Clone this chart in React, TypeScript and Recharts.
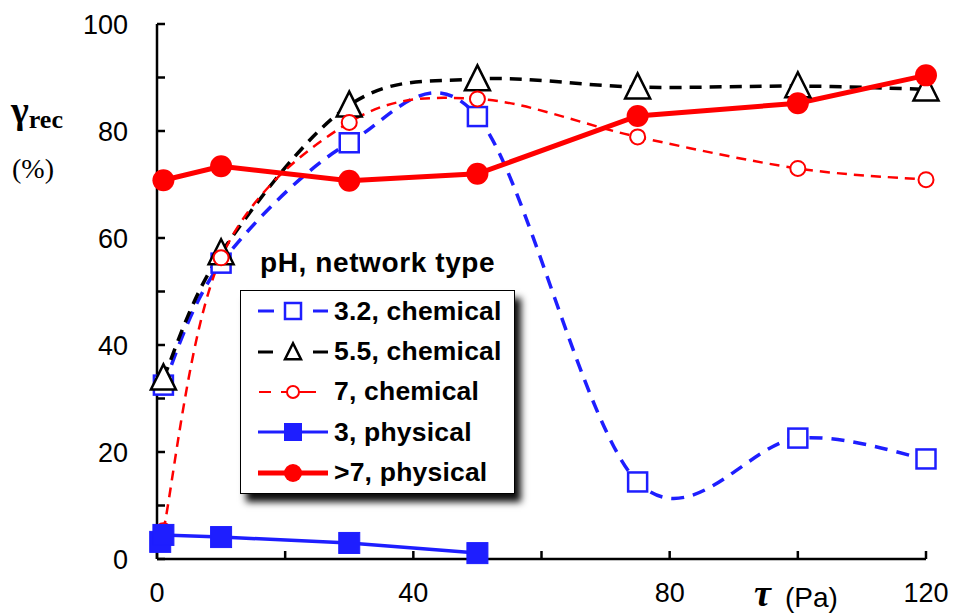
import React from "react";
import { LineChart, Line, XAxis, YAxis, Legend } from "recharts";

// values
const xChem = [1, 10, 30, 50, 75, 100, 120];
const y32Chem = [32.5, 55.3, 77.8, 82.7, 14.4, 22.6, 18.7];
const y55Chem = [33.8, 57.2, 84.8, 89.7, 88.2, 88.4, 87.8];
const y7Chem = [5.3, 56.3, 81.6, 86, 78.9, 73, 70.9];
const x3Phys = [0.5, 1, 10, 30, 50];
const y3Phys = [3.2, 4.5, 4.1, 3.0, 1.1];
const xGt7Phys = [1, 10, 30, 50, 75, 100, 120];
const yGt7Phys = [70.8, 73.4, 70.7, 72, 82.8, 85.2, 90.4];

const seriesNames = ["3.2, chemical", "5.5, chemical", "7, chemical", "3, physical", ">7, physical"];
const xTicks = [0, 20, 40, 60, 80, 100, 120];
const yTicks = [0, 10, 20, 30, 40, 50, 60, 70, 80, 90, 100];

const BLUE = "#1E1EFF";
const RED = "#FF0000";
const SANS = "'Liberation Sans', Arial, sans-serif";
const SERIF = "'Liberation Serif', 'Times New Roman', serif";

const toRows = (xs: number[], ys: number[]) => xs.map((x, i) => ({ x, y: ys[i] }));

// Excel-like smoothed line (bezier with 1/6 tangents)
const excelSmooth = (context: any) => {
  let pts: [number, number][] = [];
  return {
    areaStart() {},
    areaEnd() {},
    lineStart() {
      pts = [];
    },
    point(x: number, y: number) {
      pts.push([+x, +y]);
    },
    lineEnd() {
      const n = pts.length;
      if (!n) return;
      context.moveTo(pts[0][0], pts[0][1]);
      for (let i = 0; i < n - 1; i++) {
        const p0 = pts[Math.max(i - 1, 0)];
        const p1 = pts[i];
        const p2 = pts[i + 1];
        const p3 = pts[Math.min(i + 2, n - 1)];
        context.bezierCurveTo(
          p1[0] + (p2[0] - p0[0]) / 6,
          p1[1] + (p2[1] - p0[1]) / 6,
          p2[0] - (p3[0] - p1[0]) / 6,
          p2[1] - (p3[1] - p1[1]) / 6,
          p2[0],
          p2[1]
        );
      }
    },
  };
};

const OpenSquare = ({ cx, cy, s = 19 }: any) => (
  <rect x={cx - s / 2} y={cy - s / 2} width={s} height={s} fill="#fff" stroke={BLUE} strokeWidth={2.5} />
);
const FilledSquare = ({ cx, cy, s = 21 }: any) => (
  <rect x={cx - s / 2} y={cy - s / 2} width={s} height={s} fill={BLUE} stroke={BLUE} strokeWidth={1} />
);
const Triangle = ({ cx, cy, w = 25, h = 25 }: any) => (
  <polygon
    points={`${cx},${cy - h * 0.55} ${cx - w / 2},${cy + h * 0.45} ${cx + w / 2},${cy + h * 0.45}`}
    fill="#fff"
    stroke="#000"
    strokeWidth={2.5}
    strokeLinejoin="miter"
  />
);
const OpenCircle = ({ cx, cy, r = 7.5 }: any) => (
  <circle cx={cx} cy={cy} r={r} fill="#fff" stroke={RED} strokeWidth={2} />
);
const FilledCircle = ({ cx, cy, r = 11 }: any) => <circle cx={cx} cy={cy} r={r} fill={RED} />;

const legendIcon: Record<string, React.ReactNode> = {
  "3.2, chemical": (
    <>
      <line x1={2} x2={18} y1={0} y2={0} stroke={BLUE} strokeWidth={3} />
      <OpenSquare cx={37} cy={0} s={16} />
      <line x1={57} x2={72} y1={0} y2={0} stroke={BLUE} strokeWidth={3} />
    </>
  ),
  "5.5, chemical": (
    <>
      <line x1={2} x2={17} y1={0} y2={0} stroke="#000" strokeWidth={3} />
      <Triangle cx={37} cy={0} w={16} h={16} />
      <line x1={57} x2={72} y1={0} y2={0} stroke="#000" strokeWidth={3} />
    </>
  ),
  "7, chemical": (
    <>
      <line x1={3} x2={15} y1={0} y2={0} stroke={RED} strokeWidth={2} />
      <line x1={25} x2={60} y1={0} y2={0} stroke={RED} strokeWidth={2} />
      <OpenCircle cx={37} cy={0} r={6} />
    </>
  ),
  "3, physical": (
    <>
      <line x1={2} x2={72} y1={0} y2={0} stroke={BLUE} strokeWidth={3} />
      <FilledSquare cx={37} cy={0} s={17} />
    </>
  ),
  ">7, physical": (
    <>
      <line x1={2} x2={72} y1={0} y2={0} stroke={RED} strokeWidth={5} />
      <FilledCircle cx={37} cy={0} r={9} />
    </>
  ),
};

const renderLegend = (props: any) => {
  const payload = [...(props.payload || [])].sort(
    (a: any, b: any) => seriesNames.indexOf(a.value) - seriesNames.indexOf(b.value)
  );
  return (
    <div style={{ position: "relative", fontFamily: SANS, fontWeight: "bold", color: "#000" }}>
      <div
        style={{
          position: "absolute",
          left: 20,
          top: 0,
          fontSize: 28,
          letterSpacing: 0.6,
          lineHeight: "30px",
          whiteSpace: "nowrap",
        }}
      >
        pH, network type
      </div>
      <div
        style={{
          position: "absolute",
          left: 0,
          top: 42,
          width: 275,
          height: 204,
          boxSizing: "border-box",
          border: "1.5px solid #000",
          background: "#fff",
          boxShadow: "6px 8px 7px rgba(0,0,0,0.95)",
        }}
      >
        {payload.map((entry: any) => (
          <div
            key={entry.value}
            style={{ height: 40.4, display: "flex", alignItems: "center", whiteSpace: "nowrap" }}
          >
            <svg width={78} height={30} style={{ marginLeft: 14, flex: "none" }}>
              <g transform="translate(1,15)">{legendIcon[entry.value]}</g>
            </svg>
            <span style={{ fontSize: 26.5, letterSpacing: 0.2, marginLeft: 1 }}>{entry.value}</span>
          </div>
        ))}
      </div>
    </div>
  );
};

const axisStroke = { stroke: "#000", strokeWidth: 2.5 };
const tickStyle = { fontSize: 27, fill: "#000", fontFamily: SANS };

export default function App() {
  return (
    <div style={{ position: "relative", width: 954, height: 615, background: "#fff" }}>
      <style>{"body{margin:0}"}</style>
      <LineChart width={954} height={615} margin={{ top: 24, right: 28, left: 0, bottom: 0 }}>
        <XAxis
          type="number"
          dataKey="x"
          domain={[0, 120]}
          ticks={xTicks}
          interval={0}
          allowDuplicatedCategory={false}
          height={56}
          tickSize={-8}
          tickMargin={32}
          axisLine={axisStroke}
          tickLine={axisStroke}
          tick={tickStyle}
          tickFormatter={(v: number) => (v % 40 === 0 ? String(v) : "")}
        />
        <YAxis
          type="number"
          domain={[0, 100]}
          ticks={yTicks}
          interval={0}
          width={157}
          tickSize={-8}
          tickMargin={37}
          axisLine={axisStroke}
          tickLine={axisStroke}
          tick={tickStyle}
          tickFormatter={(v: number) => (v % 20 === 0 ? String(v) : "")}
        />
        <Legend
          layout="vertical"
          verticalAlign="middle"
          align="center"
          content={renderLegend}
          wrapperStyle={{ position: "absolute", left: 240, top: 248, width: 290, height: 260 }}
        />
        <Line
          name={seriesNames[0]}
          data={toRows(xChem, y32Chem)}
          dataKey="y"
          type={excelSmooth as any}
          stroke={BLUE}
          strokeWidth={3.5}
          strokeDasharray="13 9"
          dot={(p: any) => <OpenSquare key={p.index} cx={p.cx} cy={p.cy} />}
          activeDot={false}
          isAnimationActive={false}
        />
        <Line
          name={seriesNames[1]}
          data={toRows(xChem, y55Chem)}
          dataKey="y"
          type={excelSmooth as any}
          stroke="#000"
          strokeWidth={3.5}
          strokeDasharray="12 8"
          dot={(p: any) => <Triangle key={p.index} cx={p.cx} cy={p.cy} />}
          activeDot={false}
          isAnimationActive={false}
        />
        <Line
          name={seriesNames[2]}
          data={toRows(xChem, y7Chem)}
          dataKey="y"
          type={excelSmooth as any}
          stroke={RED}
          strokeWidth={2.5}
          strokeDasharray="10 7"
          dot={(p: any) => <OpenCircle key={p.index} cx={p.cx} cy={p.cy} />}
          activeDot={false}
          isAnimationActive={false}
        />
        <Line
          name={seriesNames[3]}
          data={toRows(x3Phys, y3Phys)}
          dataKey="y"
          type="linear"
          stroke={BLUE}
          strokeWidth={3.5}
          dot={(p: any) => <FilledSquare key={p.index} cx={p.cx} cy={p.cy} />}
          activeDot={false}
          isAnimationActive={false}
        />
        <Line
          name={seriesNames[4]}
          data={toRows(xGt7Phys, yGt7Phys)}
          dataKey="y"
          type="linear"
          stroke={RED}
          strokeWidth={5}
          dot={(p: any) => <FilledCircle key={p.index} cx={p.cx} cy={p.cy} />}
          activeDot={false}
          isAnimationActive={false}
        />
      </LineChart>
      <svg
        width={954}
        height={615}
        style={{ position: "absolute", left: 0, top: 0, pointerEvents: "none" }}
      >
        <text x={11} y={123} fontFamily={SERIF} fontWeight="bold" fontSize={38}>
          γ
          <tspan fontSize={26} dy={5}>rec</tspan>
        </text>
        <text x={12} y={178} fontFamily={SERIF} fontSize={28}>
          (%)
        </text>
        <text x={754} y={606} fontFamily={SERIF} fontWeight="bold" fontStyle="italic" fontSize={38}>
          τ
        </text>
        <text x={785} y={607} fontFamily={SANS} fontSize={28}>
          (Pa)
        </text>
      </svg>
    </div>
  );
}
